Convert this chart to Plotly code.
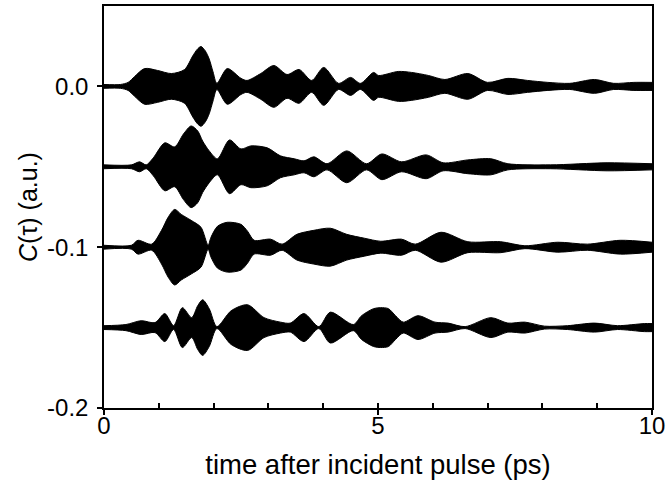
import plotly.graph_objects as go

# ---- data (envelope half-amplitudes, a.u.) ----
offsets = [0.0, -0.05, -0.10, -0.15]

t1 = [0, 0.3, 0.44, 0.56, 0.74, 0.98, 1.23, 1.47, 1.62, 1.7, 1.77, 1.85, 1.92, 1.99, 2.06,
      2.25, 2.5, 2.61, 2.86, 3.1, 3.34, 3.56, 3.79, 4.01, 4.28, 4.5, 4.68, 4.92, 5.01, 5.37,
      5.61, 5.92, 6.22, 6.64, 7.0, 7.37, 7.73, 8.1, 8.5, 8.95, 9.3, 9.67, 10]
a1 = [0.0012, 0.0012, 0.0025, 0.0062, 0.0111, 0.0099, 0.008, 0.0105, 0.019, 0.023, 0.0248,
      0.022, 0.017, 0.009, 0.0019, 0.0111, 0.005, 0.0037, 0.008, 0.013, 0.0074, 0.0105,
      0.0037, 0.0118, 0.0019, 0.0056, 0.0019, 0.0087, 0.0068, 0.0093, 0.0087, 0.0068,
      0.0043, 0.008, 0.0025, 0.005, 0.0037, 0.0025, 0.0019, 0.0043, 0.0019, 0.0025, 0.0025]

t2 = [0, 0.5, 0.65, 0.77, 0.9, 1.11, 1.29, 1.45, 1.59, 1.71, 1.8, 1.92, 2.07, 2.29, 2.5,
      2.68, 2.98, 3.22, 3.47, 3.65, 3.83, 4.07, 4.43, 4.79, 5.07, 5.43, 5.88, 6.19, 6.64,
      7.06, 7.37, 8.15, 9.18, 10]
a2 = [0.0012, 0.0012, 0.0031, 0.0012, 0.0056, 0.0149, 0.0124, 0.0204, 0.0254, 0.0223,
      0.016, 0.0099, 0.005, 0.0167, 0.0111, 0.013, 0.0118, 0.0068, 0.005, 0.0037, 0.0062,
      0.0019, 0.0099, 0.0019, 0.008, 0.0031, 0.0074, 0.0025, 0.0043, 0.005, 0.0019,
      0.0012, 0.0025, 0.0019]

t3 = [0, 0.5, 0.62, 0.87, 1.05, 1.17, 1.29, 1.41, 1.59, 1.77, 1.9, 1.95, 2.07, 2.25, 2.5,
      2.62, 2.74, 3.04, 3.25, 3.52, 3.83, 4.13, 4.43, 4.75, 5.05, 5.43, 5.68, 6.15, 6.64,
      7.24, 7.68, 8.28, 8.82, 9.42, 10]
a3 = [0.0012, 0.0012, 0.0043, 0.0019, 0.0105, 0.0186, 0.0235, 0.0204, 0.0167, 0.0124,
      0.0012, 0.006, 0.013, 0.0155, 0.0142, 0.0099, 0.0043, 0.005, 0.0019, 0.008, 0.0105,
      0.0118, 0.008, 0.0056, 0.0037, 0.005, 0.0019, 0.0093, 0.0034, 0.0034, 0.0009,
      0.0031, 0.0019, 0.0043, 0.0031]

t4 = [0, 0.4, 0.68, 0.93, 1.11, 1.27, 1.43, 1.6, 1.71, 1.8, 1.92, 2.06, 2.32, 2.62, 2.92,
      3.22, 3.4, 3.65, 3.92, 4.13, 4.55, 4.7, 4.92, 5.05, 5.19, 5.32, 5.46, 5.73, 6.04,
      6.28, 6.59, 7.06, 7.37, 7.68, 8.04, 8.46, 8.95, 9.37, 9.86, 10]
a4 = [0.0012, 0.0019, 0.0043, 0.0031, 0.0087, 0.0012, 0.0124, 0.0062, 0.0136, 0.0173,
      0.0118, 0.0006, 0.0105, 0.0142, 0.0062, 0.0034, 0.0028, 0.0087, 0.0006, 0.0096,
      0.0019, 0.0074, 0.0118, 0.0124, 0.0118, 0.0074, 0.0034, 0.0074, 0.0034, 0.0028,
      0.0006, 0.0062, 0.0028, 0.0034, 0.0009, 0.0012, 0.0028, 0.0012, 0.0025, 0.0025]

y_tickvals = [0.0, -0.1, -0.2]
y_ticktext = ["0.0", "-0.1", "-0.2"]
x_tickvals = [0, 5, 10]
x_ticktext = ["0", "5", "10"]

FONT = "Liberation Sans, Arial, sans-serif"

def fnt(size):
    return dict(family=FONT, size=size, color="black")

series = list(zip([t1, t2, t3, t4], [a1, a2, a3, a4], offsets))
fig = go.Figure()
for i, (t, a, off) in enumerate(series):
    xa, ya = ("x", "y") if i < 2 else ("x2", "y2")
    lower = [off - v for v in a]
    upper = [off + v for v in a]
    line = dict(color="black", width=1, shape="spline", smoothing=0.8)
    fig.add_trace(go.Scatter(x=t, y=lower, mode="lines", line=line, xaxis=xa, yaxis=ya,
                             showlegend=False, hoverinfo="skip"))
    fig.add_trace(go.Scatter(x=t, y=upper, mode="lines", fill="tonexty", fillcolor="black",
                             line=line, xaxis=xa, yaxis=ya,
                             showlegend=False, hoverinfo="skip"))

axis_common = dict(showgrid=False, zeroline=False, linecolor="black", linewidth=1.5,
                   tickcolor="black", tickwidth=1.5)

fig.update_layout(
    width=669, height=485,
    margin=dict(l=104, r=14, t=4, b=77),
    paper_bgcolor="white", plot_bgcolor="white",
    font=fnt(22),
    xaxis=dict(range=[0, 10], tickmode="array", tickvals=x_tickvals, ticktext=x_ticktext,
               ticks="outside", ticklen=5, showline=True, mirror=True, ticklabelstandoff=-10,
               title=dict(text="time after incident pulse (ps)", standoff=17, font=fnt(27.5)),
               tickfont=fnt(24), **axis_common),
    yaxis=dict(range=[-0.2, 0.05], tickmode="array", tickvals=y_tickvals, ticktext=y_ticktext,
               ticks="outside", ticklen=5, showline=True, mirror=True, ticklabelstandoff=4,
               title=dict(text="<i>C</i>(τ) (a.u.)", standoff=2, font=fnt(25)),
               tickfont=fnt(24), **axis_common),
    xaxis2=dict(range=[0, 10], overlaying="x", side="bottom", tickmode="linear", tick0=0,
                dtick=1, ticks="inside", ticklen=5, showticklabels=False, showline=False,
                showgrid=False, zeroline=False, tickcolor="black", tickwidth=1.5),
    yaxis2=dict(range=[-0.2, 0.05], overlaying="y", side="left", tickmode="linear", tick0=0,
                dtick=0.05, ticks="inside", ticklen=5, showticklabels=False, showline=False,
                showgrid=False, zeroline=False, tickcolor="black", tickwidth=1.5),
)

fig.write_html("out.html")
